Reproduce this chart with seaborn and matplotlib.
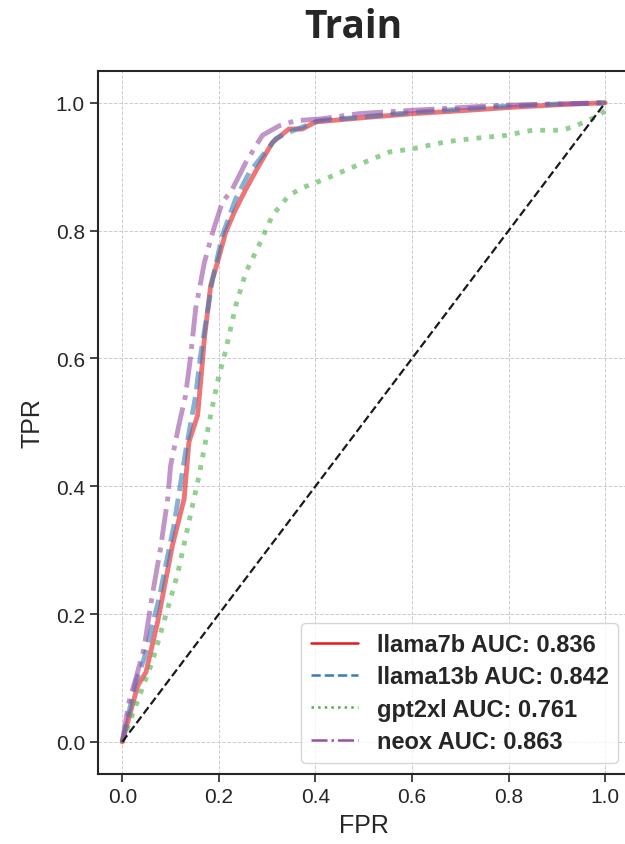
import numpy as np
import matplotlib
matplotlib.use("Agg")
import matplotlib.pyplot as plt
import seaborn as sns
from matplotlib.lines import Line2D

# ROC points
llama7b_fpr = [0, .032, .049, .073, .104, .128, .138, .156, .166, .170, .183, .197, .214, .232, .256, .283,
               .311, .345, .373, .400, .504, .601, .711, .808, .905, 1.0]
llama7b_tpr = [0, .088, .109, .187, .308, .380, .469, .511, .595, .631, .714, .750, .797, .829, .865, .902,
               .938, .959, .959, .970, .977, .983, .988, .993, .997, 1.0]

llama13b_fpr = [0, .028, .045, .076, .107, .132, .152, .162, .187, .207, .235, .263, .290, .318, .345, .373,
                .407, .500, .600, .700, .800, .900, 1.0]
llama13b_tpr = [0, .094, .130, .224, .339, .458, .542, .604, .724, .792, .850, .891, .917, .944, .954, .962,
                .972, .978, .985, .990, .995, .998, 1.0]

gpt2xl_fpr = [0, .041, .062, .090, .114, .138, .159, .180, .197, .214, .235, .256, .283, .311, .345, .373,
              .421, .470, .553, .601, .670, .725, .794, .849, .911, .939, .987, 1.0]
gpt2xl_tpr = [0, .083, .125, .198, .261, .344, .417, .500, .563, .612, .683, .735, .777, .824, .855, .867,
              .881, .897, .923, .928, .939, .944, .949, .957, .957, .964, .980, .988]

neox_fpr = [0, .014, .028, .045, .062, .079, .094, .100, .117, .131, .141, .152, .170, .187, .207, .228,
            .256, .290, .325, .359, .414, .490, .594, .690, .780, .884, 1.0]
neox_tpr = [0, .063, .099, .146, .229, .302, .380, .432, .495, .542, .600, .678, .750, .797, .844, .865,
            .907, .949, .964, .972, .975, .983, .988, .992, .996, .998, 1.0]

models = ["llama7b", "llama13b", "gpt2xl", "neox"]
aucs = [0.836, 0.842, 0.761, 0.863]
curves = [(llama7b_fpr, llama7b_tpr), (llama13b_fpr, llama13b_tpr),
          (gpt2xl_fpr, gpt2xl_tpr), (neox_fpr, neox_tpr)]
styles = ["-", "--", ":", "-."]

sns.set_theme(style="ticks")
plt.rcParams["font.family"] = ["Liberation Sans", "DejaVu Sans"]
colors = sns.color_palette("Set1", 4)

fig = plt.figure(figsize=(6.25, 8.45), dpi=100)
ax = fig.add_axes([0.157, 0.083, 0.85, 0.832])

handles = []
for name, auc, (fpr, tpr), ls, c in zip(models, aucs, curves, styles, colors):
    sns.lineplot(x=fpr, y=tpr, ax=ax, color=c, linestyle=ls, linewidth=3.5, alpha=0.6,
                 estimator=None, sort=False)
    handles.append(Line2D([0], [0], color=c, linestyle=ls, linewidth=1.8,
                          label=f"{name} AUC: {auc:.3f}"))

ax.plot([0, 1], [0, 1], "k--", linewidth=1.6)

ax.set_xlim(-0.05, 1.05)
ax.set_ylim(-0.05, 1.05)
ax.set_xticks([0, 0.2, 0.4, 0.6, 0.8, 1.0])
ax.set_yticks([0, 0.2, 0.4, 0.6, 0.8, 1.0])
ax.grid(True, linestyle="--", linewidth=0.7, color="#cccccc")
ax.tick_params(labelsize=15, length=6, width=1.2)
for s in ax.spines.values():
    s.set_linewidth(1.5)
ax.set_xlabel("FPR", fontsize=18, labelpad=5)
ax.set_ylabel("TPR", fontsize=18, labelpad=8)

leg = ax.legend(handles=handles, loc="lower right", bbox_to_anchor=(0.979, 0.016),
                borderaxespad=0, prop={"weight": "bold", "size": 17}, frameon=True,
                handlelength=2.0, labelspacing=0.4)
leg.get_frame().set_edgecolor("#cccccc")

fig.text(0.565, 0.967, "Train", ha="center", va="center", fontsize=28, fontweight="bold",
         family=["Open Sans", "DejaVu Sans"])

fig.savefig("out.png", dpi=100)
